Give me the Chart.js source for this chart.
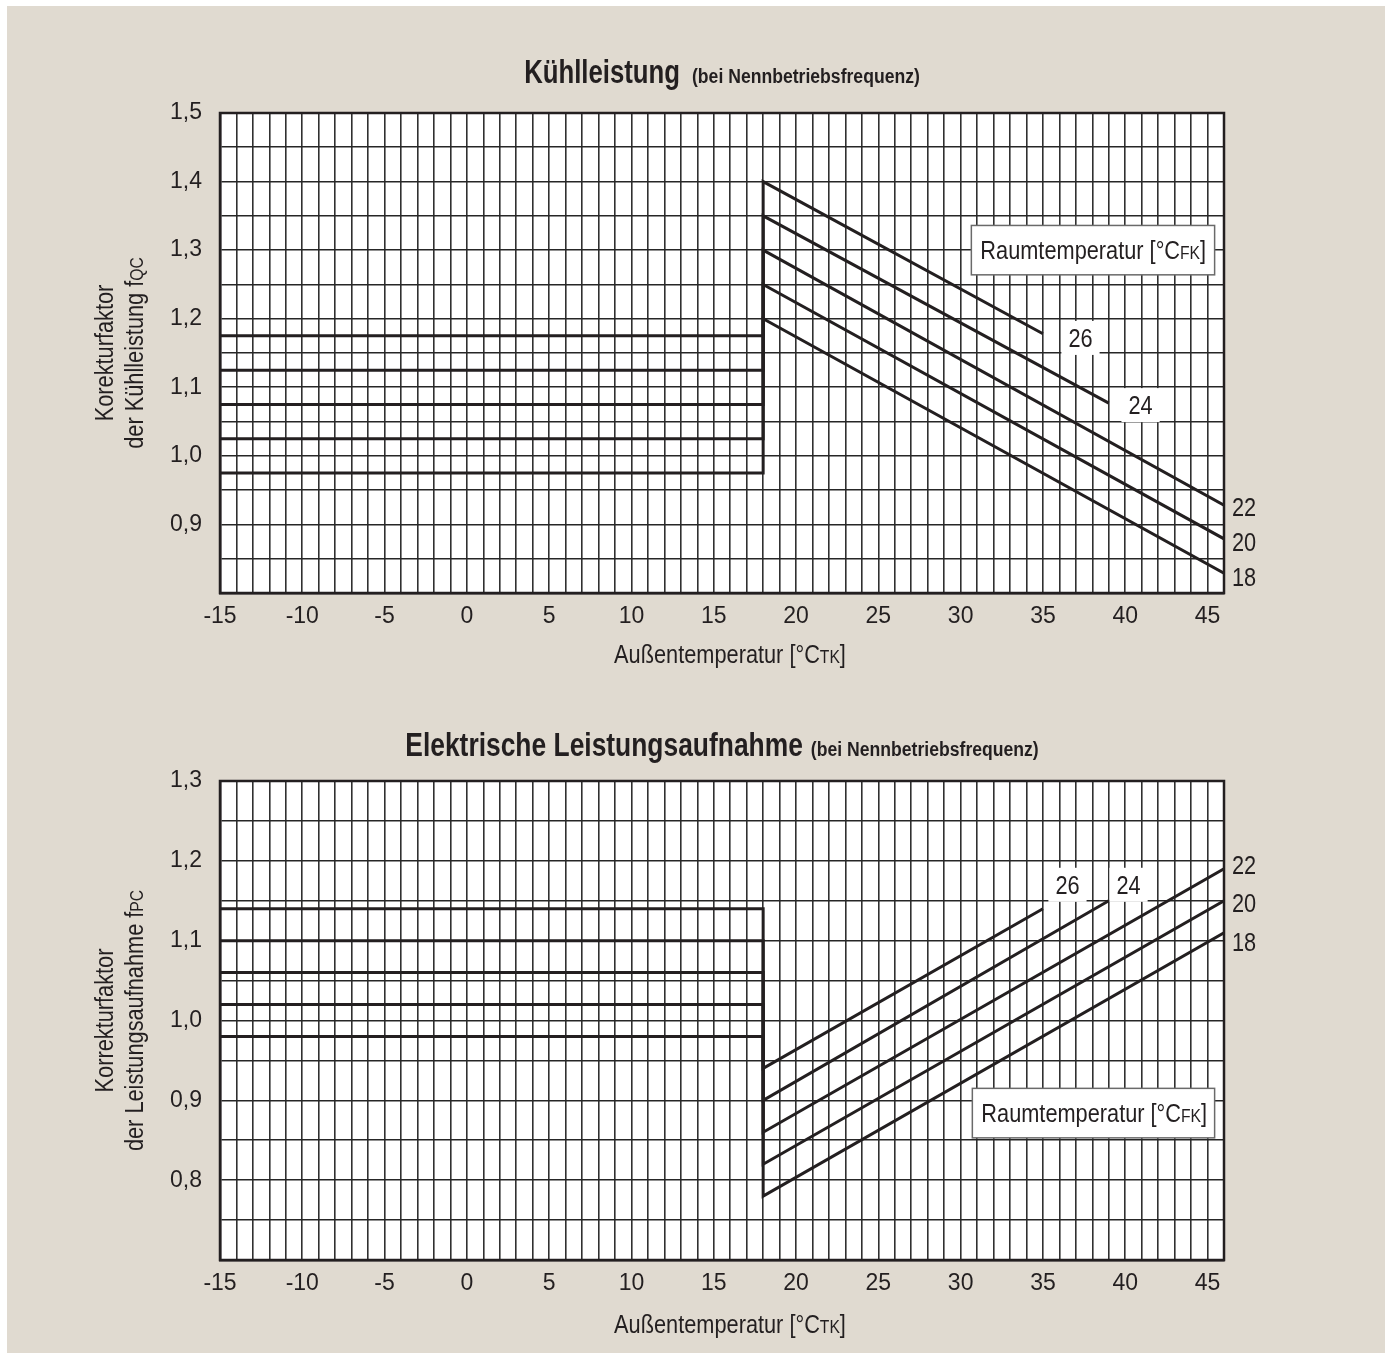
<!DOCTYPE html>
<html lang="de">
<head>
<meta charset="utf-8">
<script src="https://cdn.jsdelivr.net/npm/chart.js@4.4.1/dist/chart.umd.min.js"></script>
<style>
  html, body { margin: 0; padding: 0; background: #fff; }
  #sheet { position: absolute; left: 7px; top: 6px; width: 1378px; height: 1347px; background: #e0dad0; }
  canvas { position: absolute; left: 0; }
  #cool { top: 0; }
  #power { top: 700px; }
</style>
</head>
<body>
<div id="sheet"></div>
<canvas id="cool" width="1392" height="700"></canvas>
<canvas id="power" width="1392" height="660"></canvas>
<script>
// Raumtemperatur curves
const roomTemps = [26, 24, 22, 20, 18];
const switchTemp = 18;

// Kühlleistung: flat part (-15..18), value at 18 °C, end of sloped part
const coolFlat = [1.175, 1.125, 1.075, 1.025, 0.975];
const coolStart = [1.40, 1.35, 1.30, 1.25, 1.20];
const coolEndTemp = [35, 39, 46, 46, 46];
const coolEnd = [1.178, 1.077, 0.928, 0.879, 0.829];

// Leistungsaufnahme
const powerFlat = [1.14, 1.10, 1.06, 1.02, 0.98];
const powerStart = [0.94, 0.90, 0.86, 0.82, 0.78];
const powerEndTemp = [35, 39, 46, 46, 46];
const powerEnd = [1.14, 1.15, 1.19, 1.15, 1.11];

const FONT = "'Liberation Sans', Arial, sans-serif";
const INK = '#231f20';

const hasNarrow = (() => {
    const c = document.createElement('canvas').getContext('2d');
    c.font = '40px monospace';
    const a = c.measureText('mmmmmiiiii').width;
    c.font = "40px 'Liberation Sans Narrow', monospace";
    return c.measureText('mmmmmiiiii').width !== a;
})();
const tickFont = hasNarrow
    ? { family: "'Liberation Sans Narrow', 'Liberation Sans', sans-serif", size: 27 }
    : { family: FONT, size: 23 };

// text run: [text, size, weight, squeeze, gapBefore]
const R = (t) => [t, 25, 'normal', 0.87, 0];
const S = (t) => [t, 18, 'normal', 0.87, 0];

const drawRuns = (ctx, runs, x, y, align) => {
    const widths = runs.map(([text, size, weight, sq, gap]) => {
        ctx.font = `${weight} ${size}px ${FONT}`;
        return ctx.measureText(text).width * sq + (gap || 0);
    });
    const total = widths.reduce((a, b) => a + b, 0);
    let cx = align === 'center' ? x - total / 2 : x;
    ctx.textAlign = 'left';
    ctx.textBaseline = 'alphabetic';
    runs.forEach(([text, size, weight, sq, gap], i) => {
        ctx.save();
        ctx.translate(cx + (gap || 0), y);
        ctx.scale(sq, 1);
        ctx.font = `${weight} ${size}px ${FONT}`;
        ctx.fillText(text, 0, 0);
        ctx.restore();
        cx += widths[i];
    });
    return total;
};

const decorPlugin = {
    id: 'decor',
    beforeDraw(chart) {
        const { ctx, chartArea: a } = chart;
        ctx.save();
        ctx.fillStyle = '#fff';
        ctx.fillRect(a.left, a.top, a.right - a.left, a.bottom - a.top);
        ctx.restore();
    },
    afterDraw(chart, args, o) {
        const { ctx, chartArea: a, scales: { x, y } } = chart;
        ctx.save();
        ctx.strokeStyle = INK;
        ctx.lineWidth = 2.5;
        ctx.strokeRect(a.left, a.top, a.right - a.left, a.bottom - a.top);

        ctx.fillStyle = INK;
        const cx = (a.left + a.right) / 2;
        drawRuns(ctx, o.title, cx, o.titleY, 'center');
        drawRuns(ctx, o.xTitle, cx + 8, o.xTitleY, 'center');

        ctx.save();
        ctx.translate(0, (a.top + a.bottom) / 2);
        ctx.rotate(-Math.PI / 2);
        o.yTitle.forEach((line, i) => drawRuns(ctx, line, 0, o.yTitleX[i], 'center'));
        ctx.restore();

        // curve numbers inside the plot, on white patches
        o.tags.forEach(([text, tx, ty]) => {
            const px = x.getPixelForValue(tx);
            const py = y.getPixelForValue(ty);
            ctx.font = `25px ${FONT}`;
            const w = ctx.measureText(text).width * 0.87;
            ctx.fillStyle = '#fff';
            ctx.fillRect(px - w / 2 - 7, py - 17, w + 14, 34);
            ctx.fillStyle = INK;
            drawRuns(ctx, [R(text)], px, py + 9, 'center');
        });

        // curve numbers right of the plot
        o.edge.forEach(([text, ty]) => {
            drawRuns(ctx, [R(text)], a.right + 8, y.getPixelForValue(ty) + 9, 'left');
        });

        // legend box
        const [bx0, bx1, by0, by1] = o.box;
        const l = x.getPixelForValue(bx0), r = x.getPixelForValue(bx1);
        const t = y.getPixelForValue(by0), b = y.getPixelForValue(by1);
        ctx.fillStyle = '#fff';
        ctx.fillRect(l, t, r - l, b - t);
        ctx.strokeStyle = '#6a6a6a';
        ctx.lineWidth = 1.5;
        ctx.strokeRect(l, t, r - l, b - t);
        ctx.fillStyle = INK;
        drawRuns(ctx, [R('Raumtemperatur [°C'), S('FK'), R(']')], l + 9, (t + b) / 2 + 9, 'left');
        ctx.restore();
    },
};

const buildSets = (flat, start, endTemp, end) => roomTemps.map((temp, i) => ({
    label: temp + ' °C',
    data: [
        { x: -15, y: flat[i] },
        { x: switchTemp, y: flat[i] },
        { x: switchTemp, y: start[i] },
        { x: endTemp[i], y: end[i] },
    ],
    showLine: true,
    borderColor: INK,
    borderWidth: 3,
    borderJoinStyle: 'miter',
    pointRadius: 0,
    fill: false,
    tension: 0,
}));

const makeChart = (id, cfg) => new Chart(document.getElementById(id), {
    type: 'scatter',
    data: { datasets: cfg.datasets },
    options: {
        responsive: false,
        animation: false,
        devicePixelRatio: 1,
        layout: { padding: { left: 0, right: 168, top: cfg.padTop, bottom: cfg.padBottom } },
        plugins: {
            legend: { display: false },
            tooltip: { enabled: false },
            decor: cfg.decor,
        },
        scales: {
            x: {
                type: 'linear',
                min: -15,
                max: 46,
                afterFit: (s) => { s.height = 50; },
                grid: { color: '#303030', lineWidth: 1.6, drawTicks: false },
                border: { display: true, color: INK, width: 2.5 },
                ticks: {
                    stepSize: 1,
                    autoSkip: false,
                    maxRotation: 0,
                    padding: 10,
                    color: INK,
                    font: tickFont,
                    callback: (v) => (v % 5 === 0 && v < 46 ? String(v) : ''),
                },
            },
            y: {
                type: 'linear',
                min: cfg.yMin,
                max: cfg.yMax,
                afterFit: (s) => { s.width = 220; },
                grid: { color: '#262626', lineWidth: 1.6, drawTicks: false },
                border: { display: true, color: INK, width: 2.5 },
                ticks: {
                    stepSize: 0.05,
                    autoSkip: false,
                    padding: 18,
                    color: INK,
                    font: tickFont,
                    callback: (v) => {
                        const t = Math.round(v * 100);
                        if (t % 10 !== 0 || t === Math.round(cfg.yMin * 100)) return '';
                        return (t / 100).toFixed(1).replace('.', ',');
                    },
                },
            },
        },
    },
    plugins: [decorPlugin],
});

const xTitle = [R('Außentemperatur [°C'), S('TK'), R(']')];

makeChart('cool', {
    datasets: buildSets(coolFlat, coolStart, coolEndTemp, coolEnd),
    yMin: 0.8,
    yMax: 1.5,
    padTop: 113,
    padBottom: 57,
    decor: {
        title: [['Kühlleistung', 33, 'bold', 0.78, 0], ['(bei Nennbetriebsfrequenz)', 20, 'bold', 0.88, 12]],
        titleY: 83,
        xTitle: xTitle,
        xTitleY: 663,
        yTitle: [[R('Korekturfaktor')], [R('der Kühlleistung f'), S('QC')]],
        yTitleX: [113, 143],
        tags: [['26', 37.28, 1.172], ['24', 40.93, 1.074]],
        edge: [['22', 0.925], ['20', 0.874], ['18', 0.823]],
        box: [30.65, 45.43, 1.336, 1.264],
    },
});

makeChart('power', {
    datasets: buildSets(powerFlat, powerStart, powerEndTemp, powerEnd),
    yMin: 0.7,
    yMax: 1.3,
    padTop: 81,
    padBottom: 50,
    decor: {
        title: [['Elektrische Leistungsaufnahme', 33, 'bold', 0.8, 0], ['(bei Nennbetriebsfrequenz)', 20, 'bold', 0.88, 8]],
        titleY: 56,
        xTitle: xTitle,
        xTitleY: 633,
        yTitle: [[R('Korrekturfaktor')], [R('der Leistungsaufnahme f'), S('PC')]],
        yTitleX: [113, 143],
        tags: [['26', 36.49, 1.170], ['24', 40.2, 1.170]],
        edge: [['22', 1.195], ['20', 1.147], ['18', 1.098]],
        box: [30.71, 45.43, 0.915, 0.853],
    },
});
</script>
</body>
</html>
